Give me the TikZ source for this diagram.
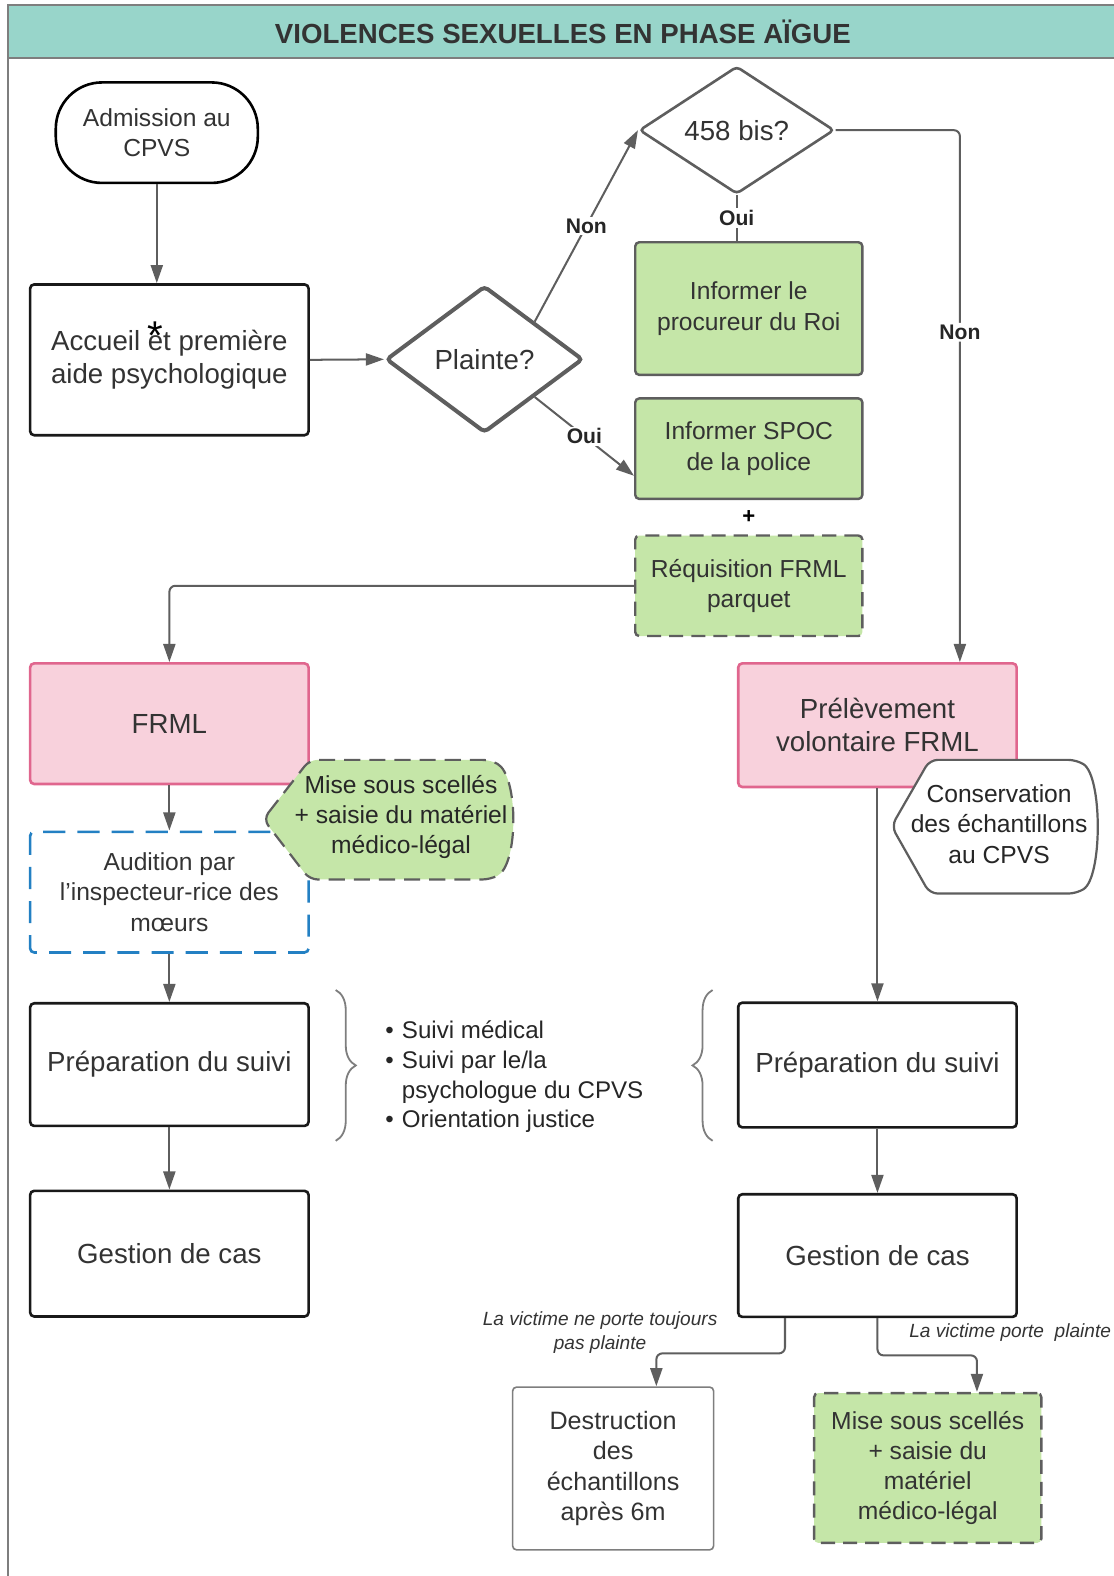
\documentclass[tikz,border=0pt]{standalone}
\usepackage{fontspec}
\setmainfont{Liberation Sans}
\usepackage{xcolor}
\usetikzlibrary{shapes.geometric, arrows.meta, positioning, calc, decorations.pathreplacing}

\definecolor{bandeau}{HTML}{98D5CA}
\definecolor{vertclair}{HTML}{C5E6A8}
\definecolor{roseclair}{HTML}{F8D1DC}
\definecolor{rosebord}{HTML}{E0668E}
\definecolor{bleubord}{HTML}{2380C3}
\definecolor{gris}{HTML}{5E5E5E}
\definecolor{texte}{HTML}{333333}

\tikzstyle{titre} = [rectangle, draw=gris!80, line width=2pt, fill=bandeau, outer sep=0pt, minimum width=1104pt, minimum height=53pt, text=texte, font=\fontsize{27.5}{30}\selectfont\bfseries]
\tikzstyle{debut} = [rectangle, draw=black, line width=2.6pt, rounded corners=46pt, align=center, text=texte, minimum width=201pt, minimum height=100pt, font=\fontsize{24.5}{30}\selectfont]
\tikzstyle{boite} = [rectangle, draw=black!90, line width=2.6pt, rounded corners=4pt, align=center, text=texte, minimum width=277pt, font=\fontsize{27.5}{33}\selectfont]
\tikzstyle{rose} = [boite, draw=rosebord, fill=roseclair]
\tikzstyle{boitebleue} = [boite, draw=bleubord, dash pattern=on 22pt off 12pt, font=\fontsize{24.5}{30}\selectfont]
\tikzstyle{vert} = [rectangle, draw=gris, line width=2.4pt, fill=vertclair, rounded corners=4pt, align=center, text=texte, minimum width=226pt, font=\fontsize{24.5}{30}\selectfont]
\tikzstyle{vertpointille} = [vert, dash pattern=on 14pt off 8pt]
\tikzstyle{boitegrise} = [rectangle, draw=gris!80, line width=1.6pt, rounded corners=4pt, align=center, text=texte, minimum width=200pt, minimum height=162pt, font=\fontsize{25}{30}\selectfont]
\tikzstyle{decision} = [diamond, draw=gris, line width=2.6pt, rounded corners=4pt, inner sep=0pt, text=texte, font=\fontsize{27.5}{30}\selectfont]
\tikzstyle{etiquette} = [fill=white, inner sep=2pt, text=black!85, font=\fontsize{21}{22}\selectfont\bfseries]
\tikzstyle{note} = [align=center, text=texte, font=\fontsize{19}{24}\selectfont\itshape]
\tikzstyle{ligne} = [draw=gris, line width=2pt]
\tikzstyle{fleche} = [ligne, -{Triangle[length=18pt,width=12pt]}]

\begin{document}
\begin{tikzpicture}[x=1pt, y=-1pt]
\useasboundingbox (0,0) rectangle (1108,1568);

% cadre et titre
\node[titre] (bandeau) at (560,31.5) {VIOLENCES SEXUELLES EN PHASE AÏGUE};
\draw[gris!80, line width=2pt] (bandeau.south west) -- ++(0,1520);

% haut du schema
\node[debut] (adm) at (156,132) {Admission au\\CPVS};
\node[boite, minimum height=150pt] (acc) at (168.5,358) {Accueil et première\\aide psychologique};
\node[text=black, font=\fontsize{40}{40}\selectfont] (etoile) at (155,334) {*};
\node[decision, line width=4pt, minimum width=196pt, minimum height=146pt] (plainte) at (482,357.5) {Plainte?};
\node[decision, minimum width=194pt, minimum height=127pt] (b458) at (733,129.5) {458 bis?};

% colonne verte
\node[vert, minimum height=132pt] (proc) at (745,307) {Informer le\\procureur du Roi};
\node[vert, minimum height=100pt, below=21pt of proc] (spoc) {Informer SPOC\\de la police};
\node[vertpointille, minimum height=100pt, below=34pt of spoc] (req) {Réquisition FRML\\parquet};
\node[font=\fontsize{22}{22}\selectfont\bfseries] (plus) at ($(spoc.south)!0.5!(req.north)$) {+};

% colonne gauche
\node[rose, minimum height=120pt] (frml) at (168.5,720) {FRML};
\node[boitebleue, minimum height=120pt, below=45pt of frml] (audit) {Audition par\\l'inspecteur-rice des\\mœurs};
\node[boite, minimum height=122pt, below=48pt of audit] (prep1) {Préparation du suivi};
\node[boite, minimum height=125pt, below=62pt of prep1] (gest1) {Gestion de cas};

% colonne droite
\node[rose, minimum height=123pt] (prel) at (873,721.5) {Prélèvement\\volontaire FRML};
\node[boite, minimum height=124pt, below=212pt of prel] (prep2) {Préparation du suivi};
\node[boite, minimum height=122pt, below=64pt of prep2] (gest2) {Gestion de cas};

% bas du schema
\node[boitegrise] (destr) at (610,1461) {Destruction\\des\\échantillons\\après 6m};
\node[vertpointille, minimum height=149pt] (mise2) at (923,1460.5) {Mise sous scellés\\+ saisie du\\matériel\\médico-légal};

% encadres lateraux
\filldraw[fill=vertclair, draw=gris, line width=2.2pt, dash pattern=on 16pt off 9pt, rounded corners=8pt] (262,815) -- (308,756) -- (488,756) .. controls (516,772) and (516,860) .. (488,875) -- (308,875) -- cycle;
\node[align=center, text=black!85, font=\fontsize{24.5}{30}\selectfont] (scelles) at (399,813) {Mise sous scellés\\+ saisie du matériel\\médico-légal};
\filldraw[fill=white, draw=gris, line width=2.2pt, rounded corners=8pt] (887,822) -- (925,756) -- (1071,756) .. controls (1097,772) and (1097,873) .. (1071,889) -- (925,889) -- cycle;
\node[align=center, text=black!85, font=\fontsize{24.5}{30}\selectfont] (conserv) at (994,820) {Conservation\\des échantillons\\au CPVS};

% accolades et liste
\draw[gris!80, line width=1.8pt, decorate, decoration={brace, amplitude=20pt}] (334,985) -- (334,1135);
\draw[gris!80, line width=1.8pt, decorate, decoration={brace, amplitude=20pt}] (709,1135) -- (709,985);
\node[anchor=west, text=black!85, font=\fontsize{24}{29.5}\selectfont] (suivi) at (380,1072) {\begin{tabular}{@{}l@{\hspace{8pt}}l@{}}
• & Suivi médical\\
• & Suivi par le/la\\
  & psychologue du CPVS\\
• & Orientation justice
\end{tabular}};

% etiquettes des branches finales
\node[note] (nonplainte) at (597,1326) {La victime ne porte toujours\\pas plainte};
\node[note] (ouiplainte) at (1005,1326) {La victime porte\ \ plainte};

% fleches
\draw[fleche] (adm) -- (adm |- acc.north);
\draw[fleche] (acc.east) -- (plainte.west);
\draw[fleche] ($(plainte.north)!0.5!(plainte.east)$) -- node[etiquette]{Non} (b458.west);
\draw[fleche] ($(plainte.east)!0.5!(plainte.south)$) -- node[etiquette]{Oui} ([yshift=-27pt]spoc.west);
\draw[ligne] (b458.south) -- node[etiquette]{Oui} (b458.south |- proc.north);
\draw[fleche, rounded corners=6pt] (b458.east) -| node[etiquette, pos=0.69]{Non} ([xshift=82pt]prel.north);
\draw[fleche, rounded corners=6pt] (req.west) -| (frml.north);

\draw[fleche] (frml) -- (audit);
\draw[fleche] (audit) -- (prep1);
\draw[fleche] (prep1) -- (gest1);
\draw[fleche] (prel) -- (prep2);
\draw[fleche] (prep2) -- (gest2);

\draw[fleche, rounded corners=6pt] ([xshift=-92pt]gest2.south) -- ++(0,35) -| ([xshift=43pt]destr.north);
\draw[fleche, rounded corners=6pt] (gest2.south) -- ++(0,37) -| ([xshift=49pt]mise2.north);

\end{tikzpicture}
\end{document}
